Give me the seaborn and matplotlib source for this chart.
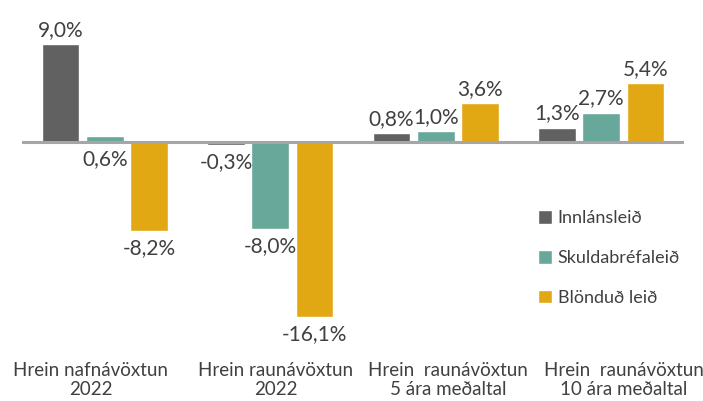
"""Hrein ávöxtun leiða 2022 - súlurit eftir leið."""

import matplotlib.pyplot as plt
import matplotlib.transforms as mtransforms
import pandas as pd
import seaborn as sns

# Gögn lesin af myndinni (%)
CATEGORIES = [
    "Hrein nafnávöxtun\n2022",
    "Hrein raunávöxtun\n2022",
    "Hrein  raunávöxtun\n5 ára meðaltal",
    "Hrein  raunávöxtun\n10 ára meðaltal",
]
SERIES = ["Innlánsleið", "Skuldabréfaleið", "Blönduð leið"]
INNLAN = [9.0, -0.3, 0.8, 1.3]
SKULDABREF = [0.6, -8.0, 1.0, 2.7]
BLONDUD = [-8.2, -16.1, 3.6, 5.4]

PALETTE = {"Innlánsleið": "#616161", "Skuldabréfaleið": "#68a89b",
           "Blönduð leið": "#e2a814"}
TEXT_COLOR = "#404040"
# 0,6% merkið situr undir núlllínunni á frummyndinni
LABEL_BELOW = {("Skuldabréfaleið", 0)}
# Excel setur flokkaheitin aðeins út til hliðanna (punktar)
TICK_SHIFT = [-10, 4, 9, 16]

df = pd.DataFrame({
    "flokkur": CATEGORIES * 3,
    "leid": [s for s in SERIES for _ in CATEGORIES],
    "gildi": INNLAN + SKULDABREF + BLONDUD,
})

sns.set_theme(style="white")
plt.rcParams["font.family"] = ["Lato", "DejaVu Sans"]

fig = plt.figure(figsize=(7.03, 4.01), dpi=100)
ax = fig.add_axes([22 / 703, 56 / 401, 662 / 703, 345 / 401])

sns.barplot(data=df, x="flokkur", y="gildi", hue="leid", order=CATEGORIES,
            hue_order=SERIES, palette=PALETTE, width=0.8, gap=0.15,
            saturation=1, ax=ax, legend=True)

ax.axhline(0, color="#a6a6a6", lw=2.2, zorder=5)
ax.set_ylim(-18.71, 13.09)
ax.set_xlim(-0.5, 3.5)

for series, container in zip(SERIES, ax.containers):
    for i, bar in enumerate(container):
        val = df[(df.leid == series) & (df.flokkur == CATEGORIES[i])].gildi.iloc[0]
        xc = bar.get_x() + bar.get_width() / 2
        txt = f"{val:.1f}%".replace(".", ",")
        below = val < 0 or (series, i) in LABEL_BELOW
        if below:
            ax.annotate(txt, (xc, min(val, 0)), xytext=(0, -5),
                        textcoords="offset points", ha="center", va="top",
                        fontsize=15, color=TEXT_COLOR, zorder=6)
        else:
            ax.annotate(txt, (xc, max(val, 0)), xytext=(0, 6),
                        textcoords="offset points", ha="center",
                        va="baseline", fontsize=15, color=TEXT_COLOR, zorder=6)

ax.set_xlabel("")
ax.set_ylabel("")
ax.set_yticks([])
ax.tick_params(axis="x", length=0, pad=12, labelsize=13.5, labelcolor=TEXT_COLOR)
for lab, shift in zip(ax.get_xticklabels(), TICK_SHIFT):
    lab.set_linespacing(1.2)
    lab.set_transform(lab.get_transform() + mtransforms.ScaledTranslation(
        shift / 72, 0, fig.dpi_scale_trans))
sns.despine(ax=ax, left=True, bottom=True)

leg = ax.legend(loc="center left", bbox_to_anchor=(538 / 703, 1 - 258 / 401),
                bbox_transform=fig.transFigure, frameon=False, fontsize=13,
                handlelength=0.78, handleheight=0.78, handletextpad=0.3,
                labelspacing=1.3, borderpad=0, borderaxespad=0)
for t in leg.get_texts():
    t.set_color(TEXT_COLOR)

fig.savefig("out.png", dpi=100)
